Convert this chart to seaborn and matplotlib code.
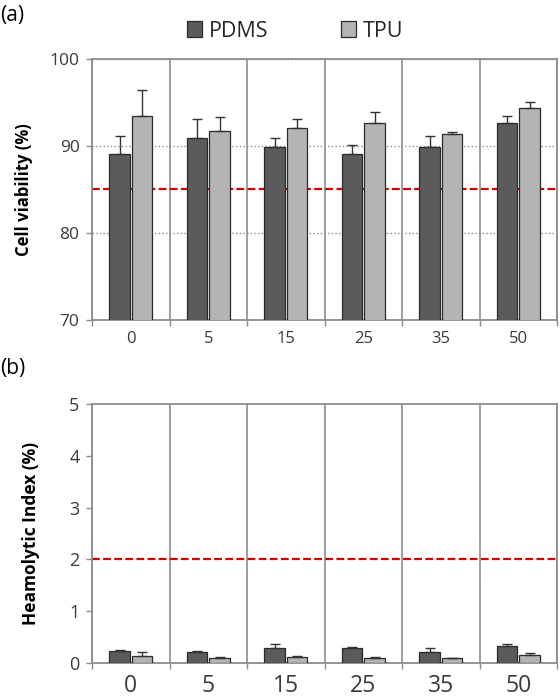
import pandas as pd
import numpy as np
import seaborn as sns
import matplotlib.pyplot as plt

# data
concentrations = ["0", "5", "15", "25", "35", "50"]
materials = ["PDMS", "TPU"]

viability_pdms = [89.1, 90.9, 89.9, 89.1, 89.9, 92.7]
viability_tpu = [93.4, 91.7, 92.1, 92.7, 91.4, 94.4]
viability_pdms_err = [2.1, 2.2, 1.0, 1.0, 1.3, 0.7]
viability_tpu_err = [3.0, 1.6, 1.0, 1.2, 0.2, 0.6]

hemo_pdms = [0.23, 0.21, 0.29, 0.29, 0.22, 0.33]
hemo_tpu = [0.14, 0.09, 0.11, 0.09, 0.09, 0.15]
hemo_pdms_err = [0.02, 0.015, 0.07, 0.01, 0.06, 0.03]
hemo_tpu_err = [0.08, 0.02, 0.02, 0.02, 0.015, 0.045]

viability_limit = 85
hemo_limit = 2

sns.set_theme(style="white")
plt.rcParams["font.family"] = ["Open Sans", "DejaVu Sans"]

palette = ["#5b5b5b", "#b4b4b4"]
frame_col = "#8c8c8c"
text_col = "#3a3a3a"


def long_df(a, b):
    return pd.DataFrame({
        "conc": concentrations * 2,
        "material": [materials[0]] * len(a) + [materials[1]] * len(b),
        "value": list(a) + list(b),
    })


def draw_panel(ax, df, errs, limit, ylim, yticks, ylabel, xsize, ysize, labsize, legend):
    ax.axhline(limit, color="#d40000", lw=1.6, ls=(0, (3.5, 1.5)), zorder=1)
    sns.barplot(data=df, x="conc", y="value", hue="material", palette=palette,
                width=0.58, gap=0.08, edgecolor="#2a2a2a", linewidth=0.9,
                errorbar=None, legend=legend, ax=ax)
    bars = ax.patches[:len(df)]
    for p in bars:
        p.set_zorder(3)
    xs = [p.get_x() + p.get_width() / 2 for p in bars]
    ys = [p.get_height() for p in bars]
    ax.errorbar(xs, ys, yerr=[np.zeros(len(errs)), errs], fmt="none",
                ecolor="#333333", elinewidth=1.0, capsize=3.3, capthick=1.0, zorder=4)
    ax.set_ylim(*ylim)
    ax.set_yticks(yticks)
    ax.set_xlim(-0.5, len(concentrations) - 0.5)
    ax.set_xticks(np.arange(-0.5, len(concentrations), 1), minor=True)
    ax.tick_params(axis="x", which="major", length=0, labelsize=xsize, colors=text_col, pad=8)
    ax.tick_params(axis="x", which="minor", length=4, width=1, color=frame_col, direction="out", bottom=True)
    ax.tick_params(axis="y", length=4, width=1, color=frame_col, direction="out", left=True,
                   labelsize=ysize, labelcolor=text_col, pad=5)
    ax.grid(False)
    ax.grid(axis="x", which="minor", color=frame_col, lw=1.2, zorder=0)
    ax.set_axisbelow(True)
    for s in ax.spines.values():
        s.set_color(frame_col)
        s.set_linewidth(1.3)
    ax.set_xlabel("")
    ax.set_ylabel(ylabel, fontsize=labsize, fontweight="bold", color="black")


fig = plt.figure(figsize=(5.6, 6.99), dpi=100)
ax1 = fig.add_axes([0.1643, 0.5422, 0.8304, 0.3734])
ax2 = fig.add_axes([0.1643, 0.0515, 0.8304, 0.3705])

draw_panel(ax1, long_df(viability_pdms, viability_tpu), viability_pdms_err + viability_tpu_err,
           viability_limit, (70, 100), [70, 80, 90, 100], "Cell viability (%)", 12, 12.5, 12, True)
ax1.yaxis.grid(True, ls=":", color="#8c8c8c", lw=1.0)
ax1.yaxis.set_label_coords(-0.127, 0.5)

draw_panel(ax2, long_df(hemo_pdms, hemo_tpu), hemo_pdms_err + hemo_tpu_err,
           hemo_limit, (0, 5), [0, 1, 2, 3, 4, 5], "Heamolytic Index (%)", 16.5, 13, 12.5, False)
ax2.yaxis.set_label_coords(-0.112, 0.5)

sns.move_legend(ax1, "center", bbox_to_anchor=(0.437, 1.107), ncol=2, frameon=False,
                title=None, fontsize=15.5, handlelength=0.7, handleheight=0.7,
                handletextpad=0.3, columnspacing=3.4)

fig.text(0.0, 0.978, "(a)", fontsize=15, color="black", va="center")
fig.text(0.0, 0.473, "(b)", fontsize=15, color="black", va="center")

fig.savefig("out.png", dpi=100)
